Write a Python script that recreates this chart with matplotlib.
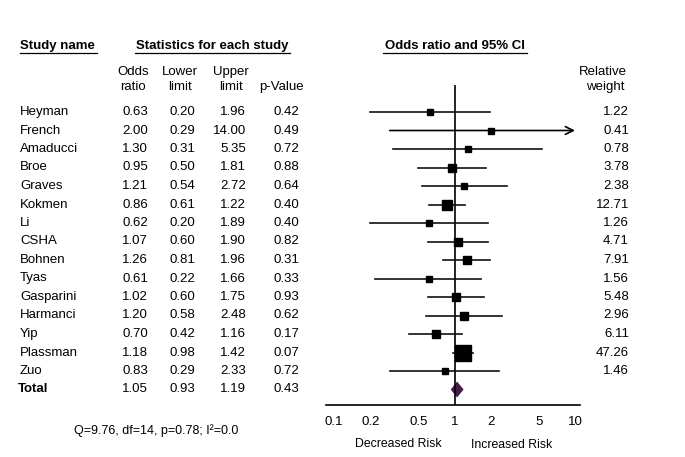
import matplotlib.pyplot as plt
import numpy as np
from matplotlib.lines import Line2D
from matplotlib.transforms import blended_transform_factory

plt.rcParams['font.family'] = ['Liberation Sans', 'DejaVu Sans']

studies = ["Heyman", "French", "Amaducci", "Broe", "Graves", "Kokmen", "Li", "CSHA",
           "Bohnen", "Tyas", "Gasparini", "Harmanci", "Yip", "Plassman", "Zuo"]
odds = [0.63, 2.00, 1.30, 0.95, 1.21, 0.86, 0.62, 1.07, 1.26, 0.61, 1.02, 1.20, 0.70, 1.18, 0.83]
lower = [0.20, 0.29, 0.31, 0.50, 0.54, 0.61, 0.20, 0.60, 0.81, 0.22, 0.60, 0.58, 0.42, 0.98, 0.29]
upper = [1.96, 14.00, 5.35, 1.81, 2.72, 1.22, 1.89, 1.90, 1.96, 1.66, 1.75, 2.48, 1.16, 1.42, 2.33]
pvals = [0.42, 0.49, 0.72, 0.88, 0.64, 0.40, 0.40, 0.82, 0.31, 0.33, 0.93, 0.62, 0.17, 0.07, 0.72]
weights = [1.22, 0.41, 0.78, 3.78, 2.38, 12.71, 1.26, 4.71, 7.91, 1.56, 5.48, 2.96, 6.11, 47.26, 1.46]
total = (1.05, 0.93, 1.19, 0.43)
tick_vals = [0.1, 0.2, 0.5, 1, 2, 5, 10]
tick_labels = ["0.1", "0.2", "0.5", "1", "2", "5", "10"]

W, H = 685, 457
fig = plt.figure(figsize=(W / 100, H / 100), dpi=100)


def fx(px):
    return px / W


def fy(py):
    return 1 - py / H


# forest axes placed in pixel terms
x0, x1, ytop, ybot = 326, 580, 85, 405
ax = fig.add_axes([fx(x0), fy(ybot), fx(x1) - fx(x0), fy(ytop) - fy(ybot)])
ax.set_xscale('log')
px_dec = 120.5
ax.set_xlim(10 ** (-1 - (334 - x0) / px_dec), 10 ** (1 + (x1 - 575) / px_dec))
row0, rstep = 112, 18.5
ax.set_ylim((ybot - row0) / rstep, (ytop - row0) / rstep)

for s in ['top', 'right', 'left']:
    ax.spines[s].set_visible(False)
ax.spines['bottom'].set_linewidth(1.2)
ax.set_yticks([])
ax.set_xticks(tick_vals)
ax.set_xticklabels(tick_labels, fontsize=9.5)
ax.xaxis.set_minor_locator(plt.NullLocator())
ax.tick_params(axis='x', length=0, pad=8)
ax.axvline(1, color='black', lw=1.2)

xmax = 10
for i in range(len(studies)):
    hi = min(upper[i], xmax)
    if upper[i] > xmax:
        ax.annotate("", xy=(hi, i), xytext=(lower[i], i),
                    arrowprops=dict(arrowstyle='->', color='black', lw=1.2,
                                    mutation_scale=14, shrinkA=0, shrinkB=0))
    else:
        ax.plot([lower[i], hi], [i, i], color='#111111', lw=1.2)
    side = 6.5 + 0.2 * weights[i]
    ax.plot(odds[i], i, marker='s', ms=side * 0.72, color='black', mec='black', lw=0)

# summary diamond
ti = len(studies)
ax.fill([total[1], total[0], total[2], total[0]],
        [ti, ti - 0.43, ti, ti + 0.43], color='#4a1a4c', lw=0)

tr = blended_transform_factory(fig.transFigure, ax.transData)
fs = 9.5

# column headers
fig.text(fx(20), fy(46), "Study name", fontsize=fs, fontweight='bold', va='center')
fig.text(fx(212), fy(46), "Statistics for each study", fontsize=fs, fontweight='bold',
         va='center', ha='center')
fig.text(fx(455), fy(46), "Odds ratio and 95% CI", fontsize=fs, fontweight='bold',
         va='center', ha='center')
for a, b in [(20, 97), (135, 290), (383, 527)]:
    fig.add_artist(Line2D([fx(a), fx(b)], [fy(53), fy(53)], color='black', lw=0.9))

for cx, l1, l2 in [(133, "Odds", "ratio"), (180, "Lower", "limit"), (231, "Upper", "limit")]:
    fig.text(fx(cx), fy(72), l1, fontsize=fs, ha='center', va='center')
    fig.text(fx(cx), fy(87), l2, fontsize=fs, ha='center', va='center')
fig.text(fx(281), fy(87), "p-Value", fontsize=fs, ha='center', va='center')
fig.text(fx(603), fy(72), "Relative", fontsize=fs, ha='center', va='center')
fig.text(fx(605), fy(87), "weight", fontsize=fs, ha='center', va='center')

# table rows
for i in range(len(studies)):
    ax.text(fx(20), i, studies[i], transform=tr, fontsize=fs, va='center', clip_on=False)
    ax.text(fx(148), i, f"{odds[i]:.2f}", transform=tr, fontsize=fs, va='center', ha='right')
    ax.text(fx(195), i, f"{lower[i]:.2f}", transform=tr, fontsize=fs, va='center', ha='right')
    ax.text(fx(246), i, f"{upper[i]:.2f}", transform=tr, fontsize=fs, va='center', ha='right')
    ax.text(fx(299), i, f"{pvals[i]:.2f}", transform=tr, fontsize=fs, va='center', ha='right')
    ax.text(fx(629), i, f"{weights[i]:.2f}", transform=tr, fontsize=fs, va='center', ha='right')

ax.text(fx(18), ti, "Total", transform=tr, fontsize=fs, va='center', fontweight='bold')
for cx, v in zip([148, 195, 246, 299], total):
    ax.text(fx(cx), ti, f"{v:.2f}", transform=tr, fontsize=fs, va='center', ha='right')

fig.text(fx(156), fy(431), "Q=9.76, df=14, p=0.78; I²=0.0", fontsize=9, ha='center', va='center')
fig.text(fx(398), fy(444), "Decreased Risk", fontsize=8.8, ha='center', va='center')
fig.text(fx(512), fy(445), "Increased Risk", fontsize=8.8, ha='center', va='center')

fig.savefig("out.png", dpi=100)
